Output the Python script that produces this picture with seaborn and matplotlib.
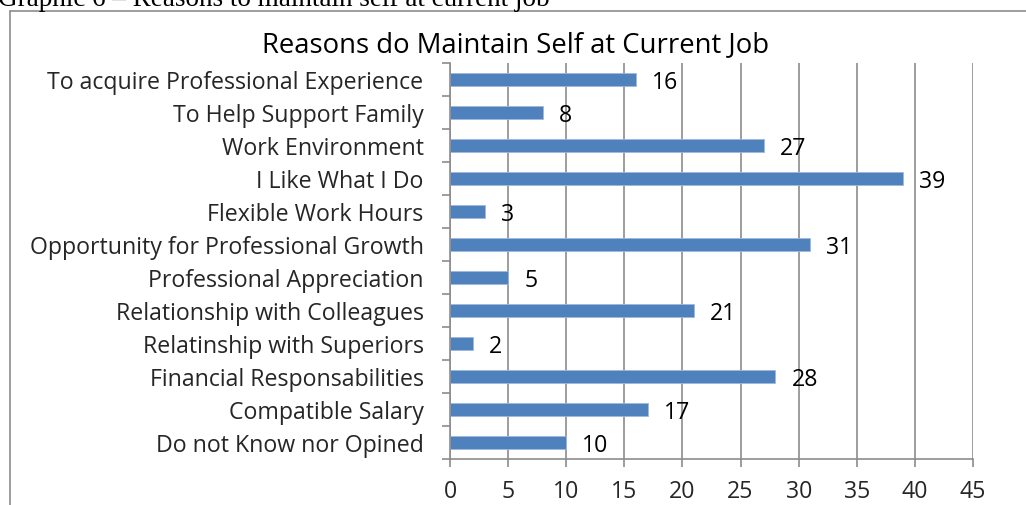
import matplotlib
matplotlib.use("Agg")
import matplotlib.pyplot as plt
import seaborn as sns
import pandas as pd
from matplotlib.lines import Line2D

categories = [
    "To acquire Professional Experience",
    "To Help Support Family",
    "Work Environment",
    "I Like What I Do",
    "Flexible Work Hours",
    "Opportunity for Professional Growth",
    "Professional Appreciation",
    "Relationship with Colleagues",
    "Relatinship with Superiors",
    "Financial Responsabilities",
    "Compatible Salary",
    "Do not Know nor Opined",
]
values = [16, 8, 27, 39, 3, 31, 5, 21, 2, 28, 17, 10]
x_ticks = [0, 5, 10, 15, 20, 25, 30, 35, 40, 45]
title = "Reasons do Maintain Self at Current Job"
caption = "Graphic 6 \u2013 Reasons to maintain self at current job"

sns.set_theme(style="white")
plt.rcParams["font.family"] = ["Open Sans", "DejaVu Sans"]

W, H = 1026, 505
fig = plt.figure(figsize=(W / 100, H / 100), dpi=100)
ax = fig.add_axes([450 / W, 1 - 459 / H, (973 - 450) / W, (459 - 63) / H])

df = pd.DataFrame({"cat": categories, "val": values})
sns.barplot(data=df, y="cat", x="val", orient="h", color="#4F81BD",
            saturation=1, width=0.4, ax=ax, edgecolor="#9DB8DC", linewidth=0.6)

ax.set_xlim(0, 45)
ax.set_ylim(len(categories) - 0.5, -0.5)
ax.set_xlabel("")
ax.set_ylabel("")

grid_c = "#8C8C8C"
fs = 16.7
ax.set_xticks(x_ticks)
ax.set_xticklabels([str(t) for t in x_ticks], fontsize=fs)
ax.xaxis.grid(True, color=grid_c, linewidth=1.2)
ax.yaxis.grid(False)
ax.set_axisbelow(True)

n = len(categories)
ax.set_yticks([i - 0.5 for i in range(n + 1)])
ax.set_yticklabels([""] * (n + 1))
ax.set_yticks(list(range(n)), minor=True)
ax.set_yticklabels(categories, minor=True, fontsize=fs)
ax.tick_params(axis="y", which="major", direction="out", length=6, width=1.2,
               color=grid_c, left=True)
ax.tick_params(axis="y", which="minor", length=0, pad=19, left=True)
ax.tick_params(axis="x", which="major", direction="out", length=6, width=1.2,
               color=grid_c, bottom=True, pad=9)

for s in ["top", "right"]:
    ax.spines[s].set_visible(False)
for s in ["left", "bottom"]:
    ax.spines[s].set_color(grid_c)
    ax.spines[s].set_linewidth(1.2)

for i, v in enumerate(values):
    ax.annotate(str(v), xy=(v, i), xytext=(11.5, -2.5), textcoords="offset points",
                ha="left", va="center", fontsize=fs, color="black")

fig.text(516 / W, 1 - 45 / H, title, ha="center", va="center", fontsize=19.8,
         color="black")
fig.text(-0.002, 1 - 6 / H, caption, ha="left", va="baseline", fontsize=19.5,
         family=["Liberation Serif", "DejaVu Serif"], color="black")

bx = 10 / W
by = 1 - 11 / H
fig.add_artist(Line2D([bx, bx], [0, by], transform=fig.transFigure,
                      color=grid_c, linewidth=1.2))
fig.add_artist(Line2D([bx, 1], [by, by], transform=fig.transFigure,
                      color=grid_c, linewidth=1.2))

fig.savefig("out.png", dpi=100)
